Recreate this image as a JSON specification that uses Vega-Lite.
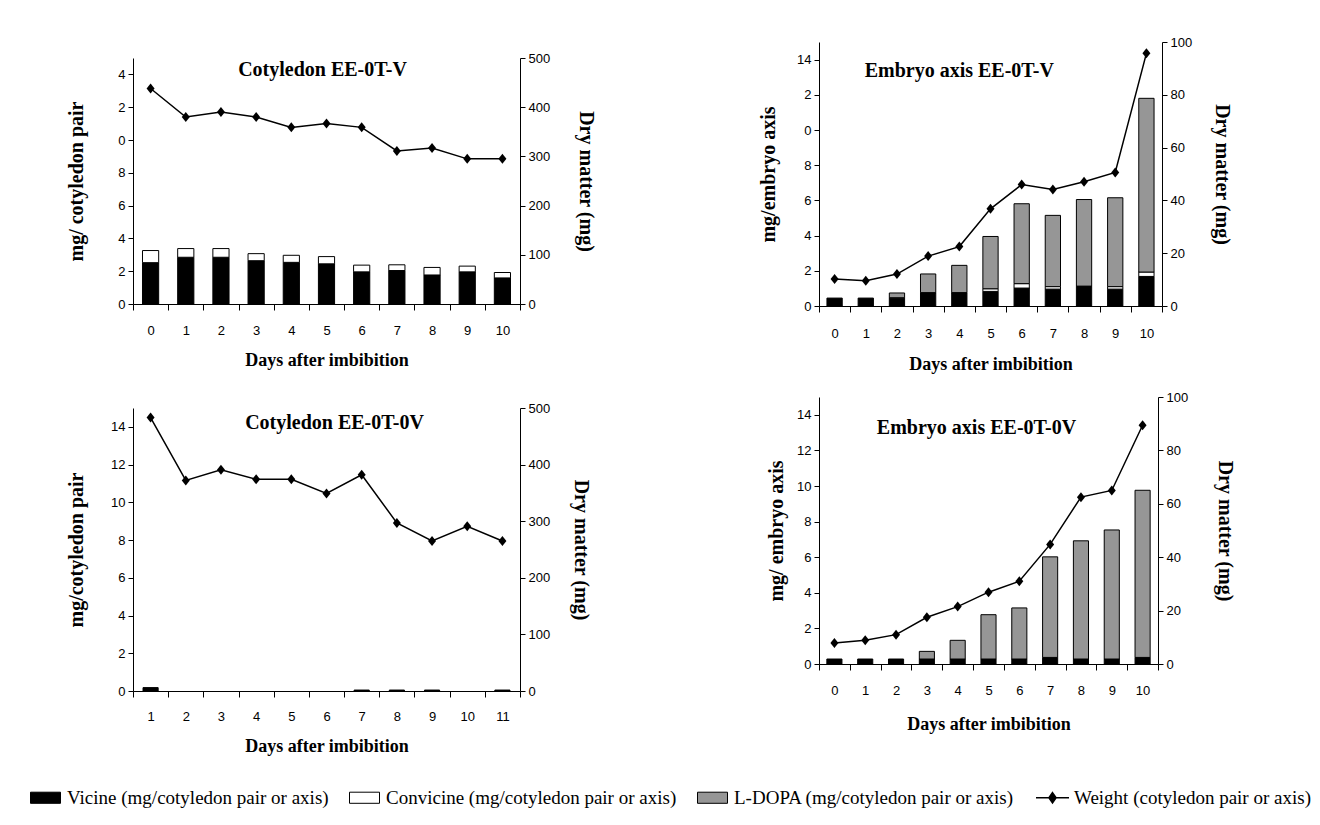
{
  "$schema": "https://vega.github.io/schema/vega-lite/v6.json",
  "background": "white",
  "padding": {"left": 36, "top": 36, "right": 0, "bottom": 0},
  "datasets": {
    "tl_bars": [
      {"day": 0, "compound": "Vicine", "ord": 1, "value": 2.52}, {"day": 0, "compound": "Convicine", "ord": 2, "value": 0.74},
      {"day": 1, "compound": "Vicine", "ord": 1, "value": 2.85}, {"day": 1, "compound": "Convicine", "ord": 2, "value": 0.53},
      {"day": 2, "compound": "Vicine", "ord": 1, "value": 2.85}, {"day": 2, "compound": "Convicine", "ord": 2, "value": 0.53},
      {"day": 3, "compound": "Vicine", "ord": 1, "value": 2.64}, {"day": 3, "compound": "Convicine", "ord": 2, "value": 0.43},
      {"day": 4, "compound": "Vicine", "ord": 1, "value": 2.54}, {"day": 4, "compound": "Convicine", "ord": 2, "value": 0.43},
      {"day": 5, "compound": "Vicine", "ord": 1, "value": 2.45}, {"day": 5, "compound": "Convicine", "ord": 2, "value": 0.44},
      {"day": 6, "compound": "Vicine", "ord": 1, "value": 1.96}, {"day": 6, "compound": "Convicine", "ord": 2, "value": 0.41},
      {"day": 7, "compound": "Vicine", "ord": 1, "value": 2.04}, {"day": 7, "compound": "Convicine", "ord": 2, "value": 0.35},
      {"day": 8, "compound": "Vicine", "ord": 1, "value": 1.77}, {"day": 8, "compound": "Convicine", "ord": 2, "value": 0.46},
      {"day": 9, "compound": "Vicine", "ord": 1, "value": 1.96}, {"day": 9, "compound": "Convicine", "ord": 2, "value": 0.35},
      {"day": 10, "compound": "Vicine", "ord": 1, "value": 1.59}, {"day": 10, "compound": "Convicine", "ord": 2, "value": 0.33}
    ],
    "tl_w": [
      {"day": 0, "weight": 438}, {"day": 1, "weight": 380}, {"day": 2, "weight": 390}, {"day": 3, "weight": 380},
      {"day": 4, "weight": 359}, {"day": 5, "weight": 367}, {"day": 6, "weight": 359}, {"day": 7, "weight": 311},
      {"day": 8, "weight": 317}, {"day": 9, "weight": 295}, {"day": 10, "weight": 295}
    ],
    "tr_bars": [
      {"day": 0, "compound": "Vicine", "ord": 1, "value": 0.45},
      {"day": 1, "compound": "Vicine", "ord": 1, "value": 0.45},
      {"day": 2, "compound": "Vicine", "ord": 1, "value": 0.45}, {"day": 2, "compound": "Convicine", "ord": 2, "value": 0.02}, {"day": 2, "compound": "L-DOPA", "ord": 3, "value": 0.27},
      {"day": 3, "compound": "Vicine", "ord": 1, "value": 0.74}, {"day": 3, "compound": "Convicine", "ord": 2, "value": 0.02}, {"day": 3, "compound": "L-DOPA", "ord": 3, "value": 1.06},
      {"day": 4, "compound": "Vicine", "ord": 1, "value": 0.74}, {"day": 4, "compound": "Convicine", "ord": 2, "value": 0.02}, {"day": 4, "compound": "L-DOPA", "ord": 3, "value": 1.55},
      {"day": 5, "compound": "Vicine", "ord": 1, "value": 0.83}, {"day": 5, "compound": "Convicine", "ord": 2, "value": 0.15}, {"day": 5, "compound": "L-DOPA", "ord": 3, "value": 2.97},
      {"day": 6, "compound": "Vicine", "ord": 1, "value": 1.02}, {"day": 6, "compound": "Convicine", "ord": 2, "value": 0.25}, {"day": 6, "compound": "L-DOPA", "ord": 3, "value": 4.54},
      {"day": 7, "compound": "Vicine", "ord": 1, "value": 0.96}, {"day": 7, "compound": "Convicine", "ord": 2, "value": 0.14}, {"day": 7, "compound": "L-DOPA", "ord": 3, "value": 4.05},
      {"day": 8, "compound": "Vicine", "ord": 1, "value": 1.1}, {"day": 8, "compound": "Convicine", "ord": 2, "value": 0.03}, {"day": 8, "compound": "L-DOPA", "ord": 3, "value": 4.92},
      {"day": 9, "compound": "Vicine", "ord": 1, "value": 0.96}, {"day": 9, "compound": "Convicine", "ord": 2, "value": 0.14}, {"day": 9, "compound": "L-DOPA", "ord": 3, "value": 5.05},
      {"day": 10, "compound": "Vicine", "ord": 1, "value": 1.68}, {"day": 10, "compound": "Convicine", "ord": 2, "value": 0.25}, {"day": 10, "compound": "L-DOPA", "ord": 3, "value": 9.87}
    ],
    "tr_w": [
      {"day": 0, "weight": 10.2}, {"day": 1, "weight": 9.6}, {"day": 2, "weight": 12.1}, {"day": 3, "weight": 18.9},
      {"day": 4, "weight": 22.5}, {"day": 5, "weight": 36.8}, {"day": 6, "weight": 46.0}, {"day": 7, "weight": 44.1},
      {"day": 8, "weight": 47.1}, {"day": 9, "weight": 50.6}, {"day": 10, "weight": 95.7}
    ],
    "bl_bars": [
      {"day": 1, "compound": "Vicine", "ord": 1, "value": 0.18},
      {"day": 7, "compound": "Vicine", "ord": 1, "value": 0.05},
      {"day": 8, "compound": "Vicine", "ord": 1, "value": 0.05},
      {"day": 9, "compound": "Vicine", "ord": 1, "value": 0.05},
      {"day": 11, "compound": "Vicine", "ord": 1, "value": 0.05}
    ],
    "bl_w": [
      {"day": 1, "weight": 483}, {"day": 2, "weight": 372}, {"day": 3, "weight": 391}, {"day": 4, "weight": 374},
      {"day": 5, "weight": 374}, {"day": 6, "weight": 349}, {"day": 7, "weight": 382}, {"day": 8, "weight": 297},
      {"day": 9, "weight": 265}, {"day": 10, "weight": 291}, {"day": 11, "weight": 265}
    ],
    "br_bars": [
      {"day": 0, "compound": "Vicine", "ord": 1, "value": 0.28},
      {"day": 1, "compound": "Vicine", "ord": 1, "value": 0.28},
      {"day": 2, "compound": "Vicine", "ord": 1, "value": 0.28},
      {"day": 3, "compound": "Vicine", "ord": 1, "value": 0.28}, {"day": 3, "compound": "L-DOPA", "ord": 3, "value": 0.43},
      {"day": 4, "compound": "Vicine", "ord": 1, "value": 0.28}, {"day": 4, "compound": "L-DOPA", "ord": 3, "value": 1.05},
      {"day": 5, "compound": "Vicine", "ord": 1, "value": 0.28}, {"day": 5, "compound": "L-DOPA", "ord": 3, "value": 2.49},
      {"day": 6, "compound": "Vicine", "ord": 1, "value": 0.28}, {"day": 6, "compound": "L-DOPA", "ord": 3, "value": 2.87},
      {"day": 7, "compound": "Vicine", "ord": 1, "value": 0.37}, {"day": 7, "compound": "L-DOPA", "ord": 3, "value": 5.65},
      {"day": 8, "compound": "Vicine", "ord": 1, "value": 0.28}, {"day": 8, "compound": "L-DOPA", "ord": 3, "value": 6.64},
      {"day": 9, "compound": "Vicine", "ord": 1, "value": 0.28}, {"day": 9, "compound": "L-DOPA", "ord": 3, "value": 7.25},
      {"day": 10, "compound": "Vicine", "ord": 1, "value": 0.37}, {"day": 10, "compound": "L-DOPA", "ord": 3, "value": 9.39}
    ],
    "br_w": [
      {"day": 0, "weight": 7.9}, {"day": 1, "weight": 8.9}, {"day": 2, "weight": 11.0}, {"day": 3, "weight": 17.5},
      {"day": 4, "weight": 21.5}, {"day": 5, "weight": 26.9}, {"day": 6, "weight": 31.0}, {"day": 7, "weight": 44.8},
      {"day": 8, "weight": 62.5}, {"day": 9, "weight": 65.0}, {"day": 10, "weight": 89.4}
    ],
    "t_tl": [{"label": "Cotyledon EE-0T-V"}],
    "t_tr": [{"label": "Embryo axis EE-0T-V"}],
    "t_bl": [{"label": "Cotyledon EE-0T-0V"}],
    "t_br": [{"label": "Embryo axis EE-0T-0V"}]
  },
  "resolve": {"scale": {"color": "shared"}, "legend": {"color": "shared"}},
  "spacing": 162,
  "hconcat": [
    {
      "spacing": 9,
      "vconcat": [
        {
          "width": 387, "height": 1,
          "data": {"values": [{}]},
          "mark": {"type": "point", "opacity": 0, "size": 0},
          "encoding": {}
        },
        {
          "spacing": 33,
          "vconcat": [
            {
              "width": 387, "height": 246,
              "layer": [
                {
                  "data": {"name": "tl_bars"},
                  "mark": {"type": "bar", "stroke": "black", "strokeWidth": 1, "width": {"band": 0.46}},
                  "encoding": {
                    "x": {"field": "day", "type": "ordinal", "scale": {"paddingInner": 0, "paddingOuter": 0},
                      "axis": {"title": "Days after imbibition", "labelAngle": 0, "tickBand": "extent", "tickSize": 6, "labelPadding": 14, "titlePadding": 14, "titleFontSize": 18}},
                    "y": {"field": "value", "type": "quantitative", "stack": "zero", "scale": {"domain": [0, 15], "nice": false},
                      "axis": {"title": "mg/ cotyledon pair", "values": [0, 2, 4, 6, 8, 10, 12, 14], "tickSize": 5, "labelPadding": 3, "titlePadding": 31,
                        "labelExpr": "datum.value >= 10 ? toString(datum.value - 10) : datum.label"}},
                    "color": {"field": "compound", "type": "nominal",
                      "scale": {"domain": ["Vicine", "Convicine", "L-DOPA", "Weight"], "range": ["#000000", "#ffffff", "#969696", "#000000"]},
                      "legend": {
                        "orient": "none", "legendX": -97, "legendY": 746, "direction": "horizontal", "title": null,
                        "symbolSize": 900, "symbolType": "M-1,-0.37H1V0.37H-1Z", "symbolStrokeColor": "black", "symbolStrokeWidth": 1,
                        "labelFont": "Liberation Serif", "labelFontSize": 19, "labelColor": "black", "labelOffset": 12, "columnPadding": 18, "labelLimit": 400,
                        "labelExpr": "datum.label == 'Weight' ? 'Weight (cotyledon pair or axis)' : datum.label + ' (mg/cotyledon pair or axis)'",
                        "encode": {"symbols": {"update": {
                          "shape": {"signal": "datum.value == 'Weight' ? 'M-1.1,0H1.1M0,-0.34L0.24,0L0,0.34L-0.24,0Z' : 'M-1,-0.37H1V0.37H-1Z'"},
                          "stroke": {"value": "black"},
                          "strokeWidth": {"signal": "datum.value == 'Weight' ? 1.5 : 1"}
                        }}}
                      }},
                    "order": {"field": "ord", "type": "quantitative"}
                  }
                },
                {
                  "data": {"name": "tl_w"},
                  "mark": {"type": "line", "color": "black", "strokeWidth": 1.5,
                    "point": {"shape": "M0,-1L0.8,0L0,1L-0.8,0Z", "filled": true, "size": 100, "color": "black"}},
                  "encoding": {
                    "x": {"field": "day", "type": "ordinal"},
                    "y": {"field": "weight", "type": "quantitative", "scale": {"domain": [0, 500], "nice": false},
                      "axis": {"orient": "right", "title": "Dry matter (mg)", "values": [0, 100, 200, 300, 400, 500], "tickSize": 5, "labelPadding": 3, "titlePadding": 26}}
                  }
                },
                {
                  "data": {"name": "t_tl"},
                  "mark": {"type": "text", "font": "Liberation Serif", "fontWeight": "bold", "fontSize": 20, "baseline": "middle", "align": "center", "color": "black", "dx": -4},
                  "encoding": {
                    "x": {"datum": 5, "type": "ordinal"},
                    "y": {"datum": 14.27, "type": "quantitative", "scale": {"domain": [0, 15], "nice": false}, "axis": null},
                    "text": {"field": "label"}
                  }
                }
              ],
              "resolve": {"scale": {"y": "independent"}}
            },
            {
              "width": 387, "height": 283,
              "layer": [
                {
                  "data": {"name": "bl_bars"},
                  "mark": {"type": "bar", "stroke": "black", "strokeWidth": 1, "width": {"band": 0.43}},
                  "encoding": {
                    "x": {"field": "day", "type": "ordinal", "scale": {"paddingInner": 0, "paddingOuter": 0},
                      "axis": {"title": "Days after imbibition", "labelAngle": 0, "tickBand": "extent", "tickSize": 6, "labelPadding": 13, "titlePadding": 14, "titleFontSize": 18}},
                    "y": {"field": "value", "type": "quantitative", "stack": "zero", "scale": {"domain": [0, 15], "nice": false},
                      "axis": {"title": "mg/cotyledon pair", "values": [0, 2, 4, 6, 8, 10, 12, 14], "tickSize": 5, "labelPadding": 3, "titlePadding": 24}},
                    "color": {"field": "compound", "type": "nominal"},
                    "order": {"field": "ord", "type": "quantitative"}
                  }
                },
                {
                  "data": {"name": "bl_w"},
                  "mark": {"type": "line", "color": "black", "strokeWidth": 1.5,
                    "point": {"shape": "M0,-1L0.8,0L0,1L-0.8,0Z", "filled": true, "size": 100, "color": "black"}},
                  "encoding": {
                    "x": {"field": "day", "type": "ordinal"},
                    "y": {"field": "weight", "type": "quantitative", "scale": {"domain": [0, 500], "nice": false},
                      "axis": {"orient": "right", "title": "Dry matter (mg)", "values": [0, 100, 200, 300, 400, 500], "tickSize": 5, "labelPadding": 3, "titlePadding": 21}}
                  }
                },
                {
                  "data": {"name": "t_bl"},
                  "mark": {"type": "text", "font": "Liberation Serif", "fontWeight": "bold", "fontSize": 20, "baseline": "middle", "align": "center", "color": "black", "dx": 8},
                  "encoding": {
                    "x": {"datum": 6, "type": "ordinal"},
                    "y": {"datum": 14.2, "type": "quantitative", "scale": {"domain": [0, 15], "nice": false}, "axis": null},
                    "text": {"field": "label"}
                  }
                }
              ],
              "resolve": {"scale": {"y": "independent"}}
            }
          ]
        }
      ]
    },
    {
      "spacing": 18,
      "vconcat": [
        {
          "width": 343, "height": 264,
          "layer": [
            {
              "data": {"name": "tr_bars"},
              "mark": {"type": "bar", "stroke": "black", "strokeWidth": 1, "width": {"band": 0.49}},
              "encoding": {
                "x": {"field": "day", "type": "ordinal", "scale": {"paddingInner": 0, "paddingOuter": 0},
                  "axis": {"title": "Days after imbibition", "labelAngle": 0, "tickBand": "extent", "tickSize": 6, "labelPadding": 15, "titlePadding": 15, "titleFontSize": 18}},
                "y": {"field": "value", "type": "quantitative", "stack": "zero", "scale": {"domain": [0, 15], "nice": false},
                  "axis": {"title": "mg/embryo axis", "values": [0, 2, 4, 6, 8, 10, 12, 14], "tickSize": 5, "labelPadding": 3, "titlePadding": 18,
                    "labelExpr": "datum.value == 10 || datum.value == 12 ? toString(datum.value - 10) : datum.label"}},
                "color": {"field": "compound", "type": "nominal"},
                "order": {"field": "ord", "type": "quantitative"}
              }
            },
            {
              "data": {"name": "tr_w"},
              "mark": {"type": "line", "color": "black", "strokeWidth": 1.5,
                "point": {"shape": "M0,-1L0.8,0L0,1L-0.8,0Z", "filled": true, "size": 100, "color": "black"}},
              "encoding": {
                "x": {"field": "day", "type": "ordinal"},
                "y": {"field": "weight", "type": "quantitative", "scale": {"domain": [0, 100], "nice": false},
                  "axis": {"orient": "right", "title": "Dry matter (mg)", "values": [0, 20, 40, 60, 80, 100], "tickSize": 5, "labelPadding": 3, "titlePadding": 20}}
              }
            },
            {
              "data": {"name": "t_tr"},
              "mark": {"type": "text", "font": "Liberation Serif", "fontWeight": "bold", "fontSize": 20, "baseline": "middle", "align": "center", "color": "black"},
              "encoding": {
                "x": {"datum": 4, "type": "ordinal"},
                "y": {"datum": 13.35, "type": "quantitative", "scale": {"domain": [0, 15], "nice": false}, "axis": null},
                "text": {"field": "label"}
              }
            }
          ],
          "resolve": {"scale": {"y": "independent"}}
        },
        {
          "width": 339, "height": 267,
          "layer": [
            {
              "data": {"name": "br_bars"},
              "mark": {"type": "bar", "stroke": "black", "strokeWidth": 1, "width": {"band": 0.49}},
              "encoding": {
                "x": {"field": "day", "type": "ordinal", "scale": {"paddingInner": 0, "paddingOuter": 0},
                  "axis": {"title": "Days after imbibition", "labelAngle": 0, "tickBand": "extent", "tickSize": 6, "labelPadding": 14, "titlePadding": 18, "titleFontSize": 18}},
                "y": {"field": "value", "type": "quantitative", "stack": "zero", "scale": {"domain": [0, 15], "nice": false},
                  "axis": {"title": "mg/ embryo axis", "values": [0, 2, 4, 6, 8, 10, 12, 14], "tickSize": 5, "labelPadding": 3, "titlePadding": 10}},
                "color": {"field": "compound", "type": "nominal"},
                "order": {"field": "ord", "type": "quantitative"}
              }
            },
            {
              "data": {"name": "br_w"},
              "mark": {"type": "line", "color": "black", "strokeWidth": 1.5,
                "point": {"shape": "M0,-1L0.8,0L0,1L-0.8,0Z", "filled": true, "size": 100, "color": "black"}},
              "encoding": {
                "x": {"field": "day", "type": "ordinal"},
                "y": {"field": "weight", "type": "quantitative", "scale": {"domain": [0, 100], "nice": false},
                  "axis": {"orient": "right", "title": "Dry matter (mg)", "values": [0, 20, 40, 60, 80, 100], "tickSize": 5, "labelPadding": 3, "titlePadding": 27}}
              }
            },
            {
              "data": {"name": "t_br"},
              "mark": {"type": "text", "font": "Liberation Serif", "fontWeight": "bold", "fontSize": 20, "baseline": "middle", "align": "center", "color": "black", "dx": -12},
              "encoding": {
                "x": {"datum": 5, "type": "ordinal"},
                "y": {"datum": 13.26, "type": "quantitative", "scale": {"domain": [0, 15], "nice": false}, "axis": null},
                "text": {"field": "label"}
              }
            }
          ],
          "resolve": {"scale": {"y": "independent"}}
        }
      ]
    }
  ],
  "config": {
    "view": {"stroke": null},
    "title": {"color": "black"},
    "axis": {
      "grid": false, "domainColor": "black", "tickColor": "black", "labelColor": "black", "titleColor": "black",
      "labelFont": "Liberation Sans", "labelFontSize": 13, "titleFont": "Liberation Serif", "titleFontWeight": "bold", "titleFontSize": 20,
      "domainWidth": 1, "tickWidth": 1
    }
  }
}
